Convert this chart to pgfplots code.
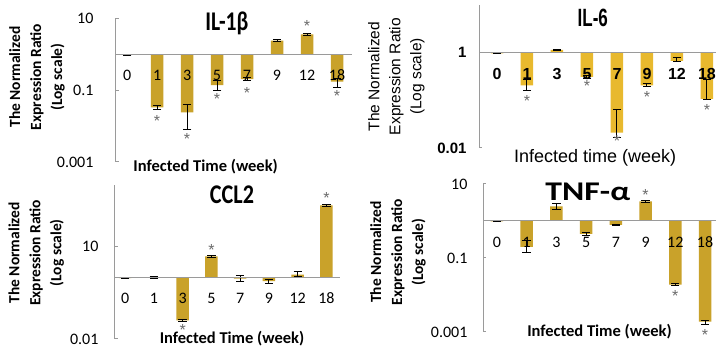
\documentclass[border=0pt]{standalone}
\usepackage{pgfplots}
\pgfplotsset{compat=1.18}
\usepackage{fontspec}
\setmainfont{Carlito}
\newfontfamily\arialf{Liberation Sans}
\definecolor{goldA}{HTML}{C9A22A}
\definecolor{goldB}{HTML}{E8B92E}
\definecolor{axgray}{HTML}{9A9A9A}
\definecolor{starc}{HTML}{6A6A6A}
\newcommand\ylabA{\bfseries\fontsize{15.5}{21}\selectfont\begin{tabular}{@{}c@{}}The Normalized\\Expression Ratio\\(Log scale)\end{tabular}}
\newcommand\ylabB{\arialf\fontsize{15.5}{21}\selectfont\begin{tabular}{@{}c@{}}The Normalized\\Expression Ratio\\(Log scale)\end{tabular}}
\pgfplotsset{
  mybase/.style={
    scale only axis, clip=false, axis on top,
    axis x line=middle, axis y line=left,
    axis line style={-, draw=axgray, line width=1pt},
    hide obscured x ticks=false, hide obscured y ticks=false,
    xtick={0,...,7}, xticklabels={0,1,3,5,7,9,12,18},
    xtick style={draw=none},
    ytick style={draw=axgray, line width=1pt},
    tick align=inside, major tick length=3pt, minor tick num=0,
    xticklabel style={anchor=center, yshift=-21pt},
    yticklabel style={anchor=east},
  },
  mybar/.style={ybar, bar width=12.5pt, fill=#1, draw=none,
    error bars/.cd, y dir=both, y explicit,
    error bar style={draw=black, line width=1pt},
    error mark options={rotate=90, draw=black, mark size=4.2pt, line width=1pt}},
  mystar/.style={draw=none, mark=none, nodes near coords={*},
    nodes near coords style={anchor=center, yshift=-2.5pt, text=starc, font=\arialf\fontsize{16}{16}\selectfont}},
}
\begin{document}
\begin{tikzpicture}
\path[use as bounding box] (0pt,0pt) rectangle (716pt,348pt);

% ---------------- IL-1beta
\begin{axis}[ymode=log, mybase, at={(116pt,186pt)}, anchor=south west,
  width=236pt, height=144pt, xmin=-0.37, xmax=7.5, ymin=0.001, ymax=10,
  ytick={0.001,0.1,10}, yticklabels={0.001,0.1,10},
  yticklabel style={xshift=-19pt, font=\fontsize{16}{16}\selectfont},
  xticklabel style={font=\fontsize{16}{16}\selectfont},
  title={\scalebox{0.8}[1]{IL-1β}}, every axis title/.style={at={(axis description cs:0.47,0.965)}, anchor=center, font=\bfseries\fontsize{27}{27}\selectfont},
  xlabel={Infected Time (week)}, every axis x label/.style={at={(axis description cs:0.38,-0.035)}, anchor=center, font=\bfseries\fontsize{16.5}{16.5}\selectfont},
  ylabel={\ylabA}, every axis y label/.style={at={(axis description cs:-0.335,0.59)}, rotate=90, anchor=center},
]
\addplot[mybar=goldA] table[x=x, y=y, y error plus=ep, y error minus=em] {
x y ep em
0 0.95 0.05 0.05
1 0.033 0.003 0.004
2 0.024 0.015 0.016
3 0.136 0.044 0.039
4 0.2 0.02 0.02
5 2.37 0.15 0.15
6 3.5 0.2 0.2
7 0.17 0.04 0.05
};
\addplot[mystar] table[x=x, y=y] {
x y
1 0.0165
2 0.0051
3 0.066
4 0.1
6 6.9
7 0.082
};
\end{axis}

% ---------------- IL-6
\begin{axis}[ymode=log, mybase, at={(479pt,200pt)}, anchor=south west,
  width=237pt, height=143pt, xmin=-0.6, xmax=7.3, ymin=0.01, ymax=10,
  ytick={0.01,1}, yticklabels={0.01,1},
  yticklabel style={xshift=-9pt, font=\arialf\bfseries\fontsize{15}{15}\selectfont},
  xticklabel style={font=\arialf\bfseries\fontsize{16}{16}\selectfont},
  title={\scalebox{0.68}[1]{IL-6}}, every axis title/.style={at={(axis description cs:0.48,0.91)}, anchor=center, font=\arialf\bfseries\fontsize{25}{25}\selectfont},
  xlabel={Infected time (week)}, every axis x label/.style={at={(axis description cs:0.49,-0.07)}, anchor=center, font=\arialf\fontsize{18}{18}\selectfont},
  ylabel={\ylabB}, every axis y label/.style={at={(axis description cs:-0.35,0.50)}, rotate=90, anchor=center},
]
\addplot[mybar=goldB] table[x=x, y=y, y error plus=ep, y error minus=em] {
x y ep em
0 0.97 0.03 0.03
1 0.205 0.065 0.045
2 1.14 0.02 0.02
3 0.31 0.02 0.02
4 0.021 0.043 0.004
5 0.205 0.02 0.01
6 0.67 0.13 0.01
7 0.107 0.16 0.001
};
\addplot[mystar] table[x=x, y=y] {
x y
1 0.107
3 0.226
4 0.016
5 0.133
7 0.07
};
\end{axis}

% ---------------- CCL2
\begin{axis}[ymode=log, mybase, at={(115pt,9pt)}, anchor=south west,
  width=225pt, height=154pt, xmin=-0.35, xmax=7.47, ymin=0.01, ymax=1000,
  ytick={0.01,10}, yticklabels={0.01,10},
  yticklabel style={xshift=-13pt, font=\fontsize{16}{16}\selectfont},
  xticklabel style={font=\fontsize{16}{16}\selectfont},
  title={\scalebox{0.82}[1]{CCL2}}, every axis title/.style={at={(axis description cs:0.52,0.935)}, anchor=center, font=\bfseries\fontsize{27}{27}\selectfont},
  xlabel={Infected Time (week)}, every axis x label/.style={at={(axis description cs:0.52,0.0)}, anchor=center, font=\bfseries\fontsize{16.5}{16.5}\selectfont},
  ylabel={\ylabA}, every axis y label/.style={at={(axis description cs:-0.35,0.56)}, rotate=90, anchor=center},
]
\addplot[mybar=goldA] table[x=x, y=y, y error plus=ep, y error minus=em] {
x y ep em
0 0.95 0.03 0.03
1 1.0 0.05 0.05
2 0.04 0.003 0.003
3 4.8 0.3 0.3
4 0.92 0.22 0.17
5 0.75 0.1 0.12
6 1.23 0.27 0.14
7 219 12 12
};
\addplot[mystar] table[x=x, y=y] {
x y
2 0.024
3 9.6
7 470
};
\end{axis}

% ---------------- TNF-alpha
\begin{axis}[ymode=log, mybase, at={(483pt,16pt)}, anchor=south west,
  width=233pt, height=148pt, xmin=-0.47, xmax=7.37, ymin=0.001, ymax=10,
  ytick={0.001,0.1,10}, yticklabels={0.001,0.1,10},
  yticklabel style={xshift=-12pt, font=\fontsize{16}{16}\selectfont},
  xticklabel style={font=\fontsize{16}{16}\selectfont},
  title={\scalebox{1.25}[1]{TNF-α}}, every axis title/.style={at={(axis description cs:0.45,0.946)}, anchor=center, font=\bfseries\fontsize{27}{27}\selectfont},
  xlabel={Infected Time (week)}, every axis x label/.style={at={(axis description cs:0.50,0.0)}, anchor=center, font=\bfseries\fontsize{16.5}{16.5}\selectfont},
  ylabel={\ylabA}, every axis y label/.style={at={(axis description cs:-0.365,0.54)}, rotate=90, anchor=center},
]
\addplot[mybar=goldA] table[x=x, y=y, y error plus=ep, y error minus=em] {
x y ep em
0 0.97 0.03 0.03
1 0.2 0.09 0.058
2 2.5 0.5 0.48
3 0.45 0.04 0.05
4 0.78 0.04 0.04
5 3.4 0.15 0.15
6 0.019 0.001 0.001
7 0.0019 0.0002 0.0003
};
\addplot[mystar] table[x=x, y=y] {
x y
5 6.0
6 0.011
7 0.001
};
\end{axis}
\end{tikzpicture}
\end{document}
